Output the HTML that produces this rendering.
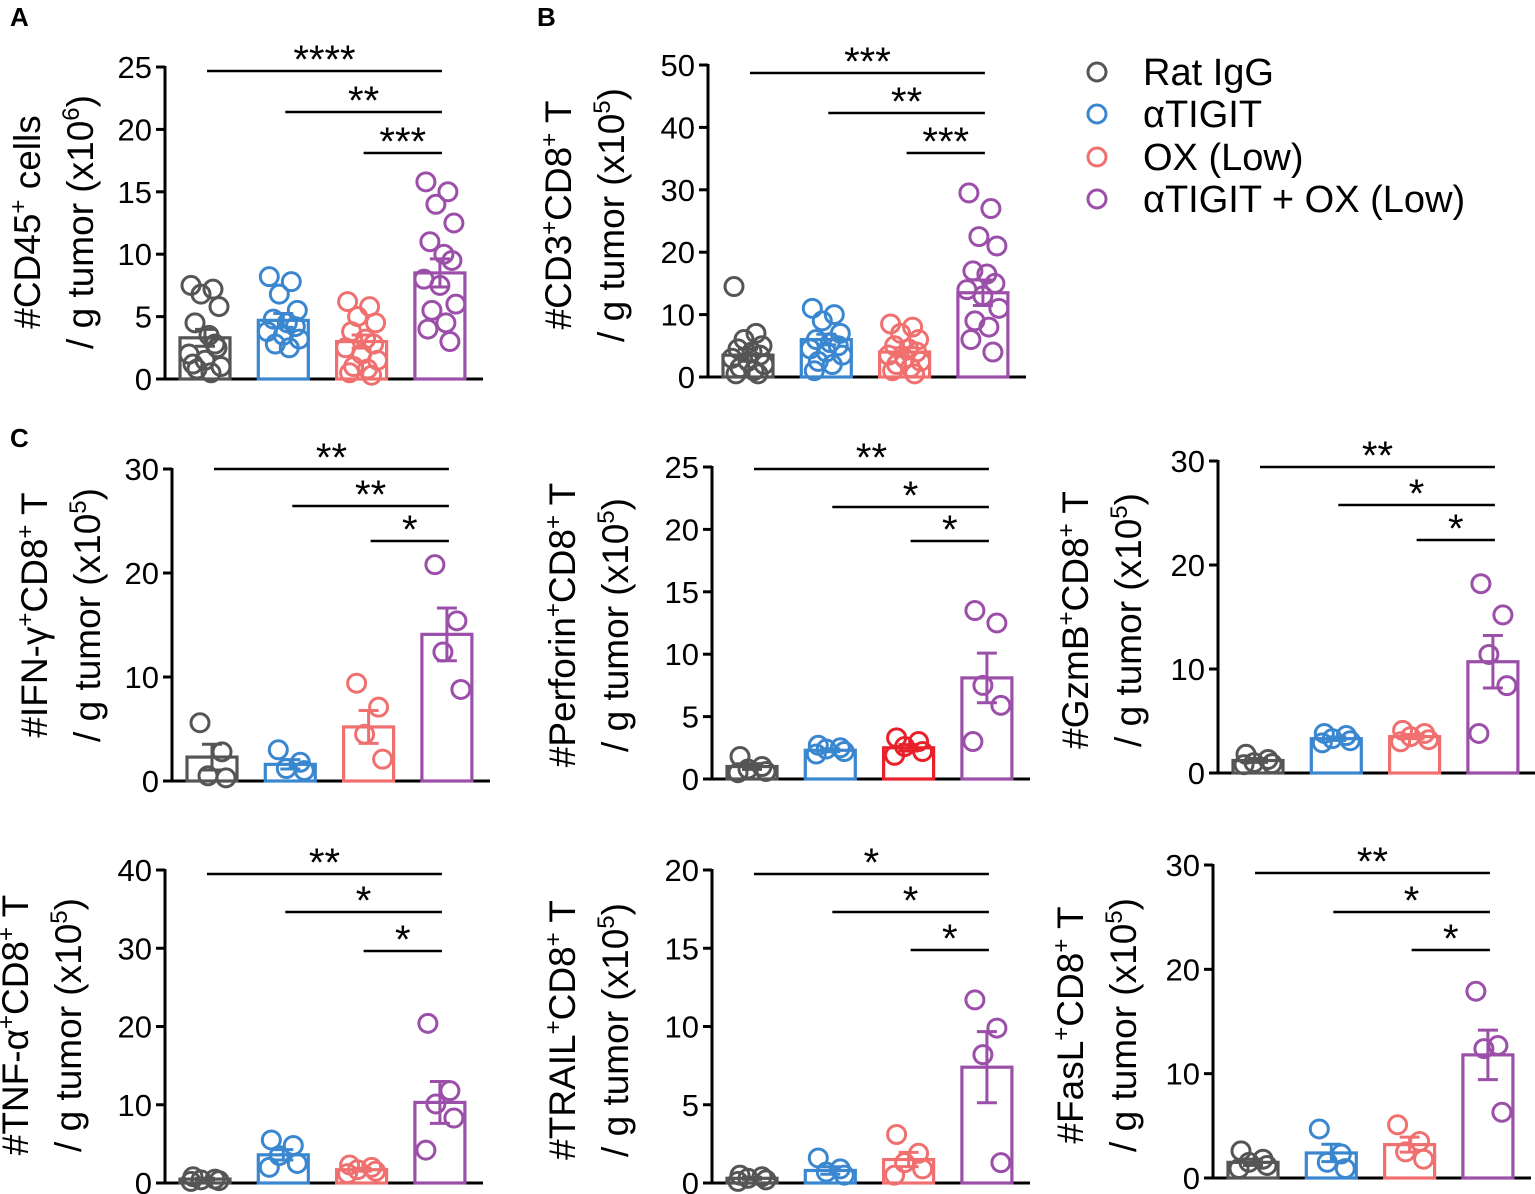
<!DOCTYPE html>
<html><head><meta charset="utf-8"><style>
html,body{margin:0;padding:0;background:#fff}
svg{display:block}
text{font-family:"Liberation Sans",Arial,sans-serif;fill:#000}
</style></head><body>
<svg id="fig" width="1535" height="1194" viewBox="0 0 1535 1194">
<text x="10" y="26" font-size="26" font-weight="bold">A</text>
<text x="537" y="26" font-size="26" font-weight="bold">B</text>
<text x="10" y="447" font-size="26" font-weight="bold">C</text>
<g>
<circle cx="1097" cy="72" r="9" fill="none" stroke="#555" stroke-width="3"/><text x="1143" y="85" font-size="38">Rat IgG</text>
<circle cx="1097" cy="114" r="9" fill="none" stroke="#3a87d0" stroke-width="3"/><text x="1143" y="127" font-size="38">αTIGIT</text>
<circle cx="1097" cy="157" r="9" fill="none" stroke="#f07070" stroke-width="3"/><text x="1143" y="170" font-size="38">OX (Low)</text>
<circle cx="1097" cy="199" r="9" fill="none" stroke="#9b4fa8" stroke-width="3"/><text x="1143" y="212" font-size="38">αTIGIT + OX (Low)</text>
</g>
</svg>
<script>
// ---- data ----
const groups = ["Rat IgG","αTIGIT","OX (Low)","αTIGIT + OX (Low)"];
const cd45Means = [3.3,4.7,3.0,8.5];
const cd45Pts = [[7.5,7.2,6.8,5.8,4.5,3.5,2.5,2.0,1.5,1.0,0.8,0.5,1.2,2.8],[8.2,7.8,6.8,5.5,4.8,4.5,4.2,3.8,3.5,3.2,2.8,2.5],[6.2,5.8,5.0,4.5,3.8,3.2,2.8,2.5,2.0,1.5,1.0,0.8,0.5,0.3],[15.8,15.0,14.0,12.5,11.0,10.0,9.5,8.0,7.5,6.0,5.5,4.5,4.0,3.0]];
const cd8Means = [3.5,6.0,4.0,13.5];
const cd8Pts = [[14.5,7,6,5,4.5,4,3.5,3,2.5,2,1.5,1,0.5,0.5],[11,10,9,7,6,5.5,5,4.5,4,3.5,2.5,2,1],[8.5,8,7,6,5,4.5,4,3.5,3,2.5,2,1.5,1,0.5],[29.5,27,22.5,21,17,16.5,15,14,13,11,9,8,6,4]];
const ifnMeans = [2.3,1.6,5.2,14.1];
const ifnPts = [[5.6,2.8,0.5,0.3],[3.0,1.8,1.2,1.0],[9.4,7.1,4.5,2.1],[20.8,15.4,12.4,8.8]];
const perfMeans = [1.0,2.3,2.5,8.1];
const perfPts = [[1.8,1.0,0.8,0.6,0.5],[2.7,2.5,2.4,2.2,2.0],[3.3,3.0,2.6,2.2,1.9],[13.5,12.5,7.5,5.9,3.0]];
const gzmMeans = [1.2,3.3,3.5,10.7];
const gzmPts = [[1.8,1.3,1.0,0.9,0.8],[3.8,3.6,3.3,3.1,2.9],[4.1,3.8,3.5,3.2,3.0],[18.2,15.2,11.4,8.4,3.8]];
const tnfMeans = [0.5,3.6,1.7,10.3];
const tnfPts = [[0.8,0.5,0.4,0.3,0.2],[5.5,4.8,3.5,2.5,2.0],[2.3,2.0,1.7,1.5,1.2],[20.4,11.8,10.1,8.3,4.2]];
const trailMeans = [0.3,0.8,1.5,7.4];
const trailPts = [[0.5,0.4,0.3,0.2,0.1],[1.6,0.9,0.7,0.5],[3.1,1.9,1.3,0.9,0.5],[11.7,9.9,8.2,1.3]];
const faslMeans = [1.5,2.4,3.2,11.8];
const faslPts = [[2.6,1.8,1.5,1.2,0.9],[4.7,2.3,1.5,0.9],[5.1,3.5,2.5,1.8],[17.9,12.7,12.4,6.3]];
const tickA = [0,5,10,15,20,25];
const tickB = [0,10,20,30,40,50];
const tick30 = [0,10,20,30];
const tick25 = [0,5,10,15,20,25];
const tick40 = [0,10,20,30,40];
const tick20 = [0,5,10,15,20];
const sigA = ["****","**","***"];
const sigB = ["***","**","***"];
const sigIfn = ["**","**","*"];
const sigPerf = ["**","*","*"];
const sigGzm = ["**","*","*"];
const sigTnf = ["**","*","*"];
const sigTrail = ["*","*","*"];
const sigFasl = ["**","*","*"];

const colors = ["#555555","#3a87d0","#f07070","#9b4fa8"];
const NS="http://www.w3.org/2000/svg";
const svg=document.getElementById('fig');
function mk(tag,attrs,parent){const e=document.createElementNS(NS,tag);for(const k in attrs)e.setAttribute(k,attrs[k]);(parent||svg).appendChild(e);return e;}

function panel(cfg){
  const g=mk('g',{});
  
  
  const y=v=>cfg.y0-(v/cfg.max)*(cfg.y0-cfg.yTop);
  const step=78.3;
  const cx=i=>cfg.ax+40+i*step;
  const ya=mk('line',{x1:cfg.ax,y1:cfg.yTop-1,x2:cfg.ax,y2:cfg.y0+1,stroke:'#000','stroke-width':3},g);
  
  
  const xa=mk('line',{x1:cfg.ax-1,y1:cfg.y0,x2:cfg.ax+318,y2:cfg.y0,stroke:'#000','stroke-width':3},g);
  
  
  cfg.ticks.forEach(t=>{
    mk('line',{x1:cfg.ax-9,y1:y(t),x2:cfg.ax,y2:y(t),stroke:'#000','stroke-width':3},g);
    const tl=mk('text',{x:cfg.ax-13,y:y(t)+11,'font-size':31,'text-anchor':'end'},g);
    tl.textContent=t;
    
    
  });
  cfg.means.forEach((m,i)=>{
    const col=(cfg.colOverride&&cfg.colOverride[i])||colors[i];
    const b=mk('rect',{x:cx(i)-25,y:y(m),width:50,height:cfg.y0-y(m),fill:'none',stroke:col,'stroke-width':3.2},g);
    
    
    const pts=cfg.pts[i];
    const n=pts.length;
    const mean=pts.reduce((a,b)=>a+b,0)/n;
    const sd=Math.sqrt(pts.reduce((a,b)=>a+(b-mean)*(b-mean),0)/(n-1));
    const sem=sd/Math.sqrt(n);
    pts.forEach((p,j)=>{
      let off;
      if(n<=5){const o=[-12,10,-4,14,-14];off=o[j%5];}
      else{const o=[-14,8,-4,14,-10,4,12,-16,0,16,-8,6,-12,10];off=o[j%14];}
      const c=mk('circle',{cx:cx(i)+off,cy:y(p),r:9,fill:'none',stroke:col,'stroke-width':3},g);
      
      
    });
    const e=mk('path',{d:`M${cx(i)},${y(m+sem)}V${y(Math.max(0,m-sem))}M${cx(i)-10},${y(m+sem)}H${cx(i)+10}M${cx(i)-10},${y(Math.max(0,m-sem))}H${cx(i)+10}`,stroke:col,'stroke-width':3,fill:'none'},g);
    
    
  });
  cfg.sig.forEach((s,k)=>{
    const ly=cfg.sigY[k];
    const x1=cx(k)+2, x2=cx(3)+2;
    mk('line',{x1:x1,y1:ly,x2:x2,y2:ly,stroke:'#000','stroke-width':2.5},g);
    const t=mk('text',{x:(x1+x2)/2,y:ly+2,'font-size':40,'text-anchor':'middle'},g);
    t.textContent=s;
    
    
  });
  const mid=cfg.titleY;
  const t1=mk('text',{transform:`translate(${cfg.ax-cfg.t1dx},${mid}) rotate(-90)`,'font-size':37,'text-anchor':'middle'},g);
  t1.innerHTML=cfg.title1;
  
  
  const t2=mk('text',{transform:`translate(${cfg.ax-cfg.t1dx+53},${mid}) rotate(-90)`,'font-size':37,'text-anchor':'middle'},g);
  t2.innerHTML='/ g tumor (x10<tspan font-size="24" dy="-14">'+cfg.exp+'</tspan><tspan dy="14">)</tspan>';
  
  
}
const sup=s=>'<tspan font-size="24" dy="-14">'+s+'</tspan><tspan dy="14">';
panel({name:'panel-a-cd45',ax:165,y0:379,yTop:67,max:25,ticks:tickA,means:cd45Means,pts:cd45Pts,sig:sigA,sigY:[71,112,153],titleY:222,t1dx:125,exp:'6',title1:'#CD45'+sup('+')+' cells</tspan>'});
panel({name:'panel-b-cd8',ax:708,y0:377,yTop:65,max:50,ticks:tickB,means:cd8Means,pts:cd8Pts,sig:sigB,sigY:[73,113,153],titleY:215,t1dx:137,exp:'5',title1:'#CD3'+sup('+')+'CD8'+sup('+')+' T</tspan></tspan>'});
panel({name:'panel-c-ifng',ax:172,y0:781,yTop:469,max:30,ticks:tick30,means:ifnMeans,pts:ifnPts,sig:sigIfn,sigY:[469,506,541],titleY:615,t1dx:125,exp:'5',title1:'#IFN-γ'+sup('+')+'CD8'+sup('+')+' T</tspan></tspan>'});
panel({name:'panel-c-perforin',ax:712,y0:779,yTop:467,max:25,ticks:tick25,means:perfMeans,pts:perfPts,sig:sigPerf,sigY:[469,507,541],titleY:625,t1dx:137,exp:'5',colOverride:[null,null,'#e8202a',null],title1:'#Perforin'+sup('+')+'CD8'+sup('+')+' T</tspan></tspan>'});
panel({name:'panel-c-gzmb',ax:1218,y0:773,yTop:461,max:30,ticks:tick30,means:gzmMeans,pts:gzmPts,sig:sigGzm,sigY:[467,505,540],titleY:620,t1dx:130,exp:'5',title1:'#GzmB'+sup('+')+'CD8'+sup('+')+' T</tspan></tspan>'});
panel({name:'panel-c-tnfa',ax:165,y0:1183,yTop:870,max:40,ticks:tick40,means:tnfMeans,pts:tnfPts,sig:sigTnf,sigY:[874,912,951],titleY:1025,t1dx:137,exp:'5',title1:'#TNF-α'+sup('+')+'CD8'+sup('+')+' T</tspan></tspan>'});
panel({name:'panel-c-trail',ax:712,y0:1183,yTop:870,max:20,ticks:tick20,means:trailMeans,pts:trailPts,sig:sigTrail,sigY:[874,912,950],titleY:1030,t1dx:137,exp:'5',title1:'#TRAIL'+sup('+')+'CD8'+sup('+')+' T</tspan></tspan>'});
panel({name:'panel-c-fasl',ax:1213,y0:1178,yTop:865,max:30,ticks:tick30,means:faslMeans,pts:faslPts,sig:sigFasl,sigY:[873,912,950],titleY:1025,t1dx:130,exp:'5',title1:'#FasL'+sup('+')+'CD8'+sup('+')+' T</tspan></tspan>'});
</script>
</body></html>
